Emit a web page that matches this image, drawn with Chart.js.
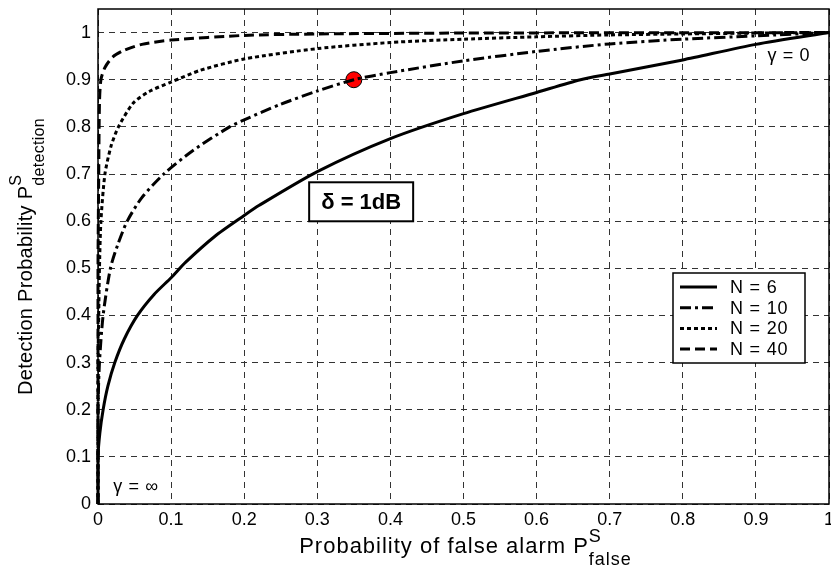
<!DOCTYPE html>
<html>
<head>
<meta charset="utf-8">
<script src="https://cdn.jsdelivr.net/npm/chart.js@4.4.0/dist/chart.umd.min.js"></script>
<style>
  html, body { margin: 0; padding: 0; background: #fff; }
</style>
</head>
<body>
<canvas id="rocChart" width="831" height="569"></canvas>
<script>
// ROC curves for delta = 1dB, four values of N

var seriesLabels = ['N = 6', 'N = 10', 'N = 20', 'N = 40'];

// false alarm prob (x) / detection prob (y)
var pfN6 = [0, 0, 0.0025, 0.007, 0.0135, 0.023, 0.036, 0.054, 0.077, 0.1, 0.12, 0.16, 0.2, 0.22, 0.3, 0.4, 0.5, 0.6, 0.66, 0.7, 0.8, 0.9, 1];
var pdN6 = [0, 0.1, 0.15, 0.2, 0.25, 0.3, 0.35, 0.4, 0.445, 0.48, 0.513, 0.568, 0.612, 0.633, 0.705, 0.775, 0.828, 0.873, 0.9, 0.912, 0.942, 0.975, 1];

var pfN10 = [0, 0, 0.002, 0.007, 0.017, 0.027, 0.04, 0.06, 0.09, 0.13, 0.18, 0.2, 0.25, 0.3, 0.35, 0.4, 0.5, 0.6, 0.7, 0.8, 0.9, 1];
var pdN10 = [0, 0.2, 0.3, 0.4, 0.5, 0.55, 0.6, 0.65, 0.7, 0.75, 0.8, 0.815, 0.848, 0.876, 0.9, 0.915, 0.94, 0.96, 0.976, 0.986, 0.993, 1];

var pfN20 = [0, 0, 0.001, 0.002, 0.004, 0.0095, 0.018, 0.028, 0.048, 0.07, 0.1, 0.14, 0.2, 0.3, 0.4, 0.5, 0.6, 0.7, 0.8, 0.9, 1];
var pdN20 = [0, 0.3, 0.4, 0.5, 0.6, 0.7, 0.76, 0.8, 0.85, 0.875, 0.895, 0.92, 0.944, 0.966, 0.979, 0.986, 0.991, 0.995, 0.997, 0.999, 1];

var pfN40 = [0, 0, 0.001, 0.002, 0.004, 0.0095, 0.02, 0.035, 0.06, 0.1, 0.2, 0.3, 0.5, 1];
var pdN40 = [0, 0.5, 0.7, 0.85, 0.9, 0.926, 0.948, 0.962, 0.975, 0.984, 0.994, 0.997, 0.999, 1];

// operating point marked in red
var markPf = [0.35];
var markPd = [0.9];

var xTicks = [0, 0.1, 0.2, 0.3, 0.4, 0.5, 0.6, 0.7, 0.8, 0.9, 1];
var yTicks = [0, 0.1, 0.2, 0.3, 0.4, 0.5, 0.6, 0.7, 0.8, 0.9, 1];

var lineDashes = [[], [11, 4, 3, 4], [4, 3], [10, 5]];

function toPoints(xs, ys) {
    var pts = [];
    for (var i = 0; i < xs.length; i++) {
        pts.push({ x: xs[i], y: ys[i] });
    }
    return pts;
}

var curves = [
    toPoints(pfN6, pdN6),
    toPoints(pfN10, pdN10),
    toPoints(pfN20, pdN20),
    toPoints(pfN40, pdN40)
];

var FONT = "'Liberation Sans', Arial, Helvetica, sans-serif";

// draw "P" with super- and subscript, centered at 0
function drawCompound(ctx, main, sup, sub, mainPx, smallPx) {
    ctx.font = mainPx + 'px ' + FONT;
    var wMain = ctx.measureText(main).width;
    ctx.font = smallPx + 'px ' + FONT;
    var wSup = ctx.measureText(sup).width;
    var wSub = ctx.measureText(sub).width;
    var total = wMain + Math.max(wSup, wSub);
    var x0 = -total / 2;
    ctx.textAlign = 'left';
    ctx.textBaseline = 'alphabetic';
    ctx.font = mainPx + 'px ' + FONT;
    ctx.fillText(main, x0, 0);
    ctx.font = smallPx + 'px ' + FONT;
    ctx.fillText(sup, x0 + wMain, -11);
    ctx.fillText(sub, x0 + wMain, 12);
}

function setSpacing(ctx, px) {
    if ('letterSpacing' in ctx) ctx.letterSpacing = px + 'px';
}

var decorPlugin = {
    id: 'decor',
    afterDraw: function (chart) {
        var ctx = chart.ctx;
        var area = chart.chartArea;
        var xs = chart.scales.x;
        var ys = chart.scales.y;
        ctx.save();
        ctx.fillStyle = '#000';
        ctx.strokeStyle = '#000';

        // axes box
        ctx.lineWidth = 1.5;
        ctx.setLineDash([]);
        ctx.strokeRect(area.left, area.top, area.right - area.left, area.bottom - area.top);

        // axis titles
        setSpacing(ctx, 1);
        ctx.save();
        ctx.translate((area.left + area.right) / 2 + 2, 553);
        drawCompound(ctx, 'Probability of false alarm P', 'S', 'false', 22, 18);
        ctx.restore();

        setSpacing(ctx, 0.3);
        ctx.save();
        ctx.translate(32, (area.top + area.bottom) / 2);
        ctx.rotate(-Math.PI / 2);
        drawCompound(ctx, 'Detection Probability P', 'S', 'detection', 20, 16);
        ctx.restore();

        // gamma notes
        setSpacing(ctx, 0.6);
        ctx.font = '18px ' + FONT;
        ctx.textAlign = 'center';
        ctx.textBaseline = 'middle';
        ctx.fillText('\u03b3 = 0', xs.getPixelForValue(0.945), ys.getPixelForValue(0.951));
        ctx.fillText('\u03b3 = \u221e', xs.getPixelForValue(0.052), ys.getPixelForValue(0.037));
        setSpacing(ctx, 0);

        // delta box
        var cx = xs.getPixelForValue(0.36);
        var cy = ys.getPixelForValue(0.64);
        ctx.fillStyle = '#fff';
        ctx.fillRect(cx - 52, cy - 20, 104, 39);
        ctx.lineWidth = 2;
        ctx.strokeRect(cx - 52, cy - 20, 104, 39);
        ctx.fillStyle = '#000';
        ctx.font = 'bold 22px ' + FONT;
        ctx.fillText('\u03b4 = 1dB', cx, cy + 1);

        // legend
        var lx = area.right - 24 - 132;
        var ly = 273;
        ctx.fillStyle = '#fff';
        ctx.fillRect(lx, ly, 132, 90);
        ctx.lineWidth = 1.5;
        ctx.strokeRect(lx, ly, 132, 90);
        ctx.fillStyle = '#000';
        ctx.font = '18px ' + FONT;
        setSpacing(ctx, 0.8);
        ctx.textAlign = 'left';
        for (var i = 0; i < seriesLabels.length; i++) {
            var rowY = ly + 14 + i * 20.7;
            ctx.lineWidth = 3;
            ctx.lineCap = 'butt';
            ctx.setLineDash(lineDashes[i]);
            ctx.beginPath();
            ctx.moveTo(lx + 7, rowY);
            ctx.lineTo(lx + 44, rowY);
            ctx.stroke();
            ctx.setLineDash([]);
            ctx.fillText(seriesLabels[i], lx + 57, rowY + 1);
        }
        ctx.restore();
    }
};

var datasets = [];
for (var i = 0; i < curves.length; i++) {
    datasets.push({
        label: seriesLabels[i],
        data: curves[i],
        borderColor: '#000',
        borderWidth: 3,
        borderDash: lineDashes[i],
        pointRadius: 0,
        fill: false,
        tension: 0.25,
        clip: false
    });
}
datasets.push({
    label: 'operating point',
    data: toPoints(markPf, markPd),
    showLine: false,
    pointRadius: 8,
    pointBackgroundColor: '#ff0000',
    pointBorderColor: '#000',
    pointBorderWidth: 1,
    clip: false
});

var ctx = document.getElementById('rocChart').getContext('2d');
new Chart(ctx, {
    type: 'line',
    data: { datasets: datasets },
    options: {
        responsive: false,
        animation: false,
        devicePixelRatio: 1,
        layout: { autoPadding: false, padding: { top: 9, right: 2, left: 0, bottom: 0 } },
        plugins: {
            legend: { display: false },
            tooltip: { enabled: false }
        },
        scales: {
            x: {
                type: 'linear',
                min: 0,
                max: 1,
                afterBuildTicks: function (scale) {
                    scale.ticks = xTicks.map(function (v) { return { value: v }; });
                },
                afterFit: function (scale) {
                    scale.height = 65;
                    scale.paddingLeft = 0;
                    scale.paddingRight = 0;
                },
                ticks: {
                    color: '#000',
                    font: { family: FONT, size: 18 },
                    padding: 5,
                    maxRotation: 0,
                    autoSkip: false,
                    callback: function (v) { return String(+v.toFixed(1)); }
                },
                grid: { color: '#333', lineWidth: 1, drawTicks: false },
                border: { display: false, dash: [6, 5] }
            },
            y: {
                type: 'linear',
                min: 0,
                max: 1.05,
                afterBuildTicks: function (scale) {
                    scale.ticks = yTicks.map(function (v) { return { value: v }; });
                },
                afterFit: function (scale) {
                    scale.width = 98;
                    scale.paddingTop = 0;
                    scale.paddingBottom = 0;
                },
                ticks: {
                    color: '#000',
                    font: { family: FONT, size: 18 },
                    padding: 7,
                    autoSkip: false,
                    callback: function (v) { return String(+v.toFixed(1)); }
                },
                grid: { color: '#333', lineWidth: 1, drawTicks: false },
                border: { display: false, dash: [6, 5] }
            }
        }
    },
    plugins: [decorPlugin]
});
</script>
</body>
</html>
